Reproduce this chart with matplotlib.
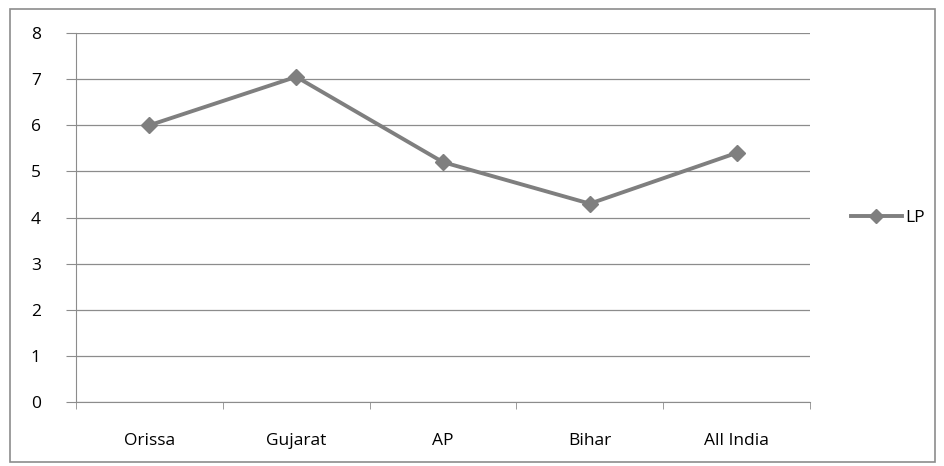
import numpy as np
import matplotlib
matplotlib.use("Agg")
import matplotlib.pyplot as plt
from matplotlib.patches import Rectangle

categories = ["Orissa", "Gujarat", "AP", "Bihar", "All India"]
lp_values = [6.0, 7.05, 5.2, 4.3, 5.4]
y_ticks = [0, 1, 2, 3, 4, 5, 6, 7, 8]

plt.rcParams['font.family'] = ['Open Sans', 'DejaVu Sans']

fig = plt.figure(figsize=(9.45, 4.66), dpi=100)
fig.patch.set_facecolor("white")
# outer chart border
fig.patches.append(Rectangle((10 / 945, 4 / 466), 925 / 945, 453 / 466,
                             transform=fig.transFigure, fill=False,
                             edgecolor="#8c8c8c", linewidth=1.2))

ax = fig.add_axes([76 / 945, 64 / 466, 734 / 945, 369 / 466])
x = np.arange(len(categories))
ax.plot(x, lp_values, color="#7f7f7f", linewidth=2.8, marker="D",
        markersize=8, label="LP")

ax.set_xlim(-0.5, len(categories) - 0.5)
ax.set_ylim(0, 8)
ax.set_yticks(y_ticks)
ax.set_xticks(x)
ax.set_xticklabels(categories, fontsize=12.5)
ax.set_xticks(np.arange(-0.5, len(categories)), minor=True)
ax.tick_params(axis="x", which="major", length=0, pad=22)
ax.tick_params(axis="x", which="minor", length=5, color="#8c8c8c", direction="out")
ax.tick_params(axis="y", length=7, color="#8c8c8c", labelsize=12.5, pad=22)
for lab in ax.get_yticklabels():
    lab.set_horizontalalignment("center")

ax.grid(axis="y", color="#8c8c8c", linewidth=0.9)
ax.set_axisbelow(True)
for s in ["top", "right"]:
    ax.spines[s].set_visible(False)
ax.spines["left"].set_color("#8c8c8c")
ax.spines["bottom"].set_color("#8c8c8c")

ax.legend(loc="center left", bbox_to_anchor=(1.035, 0.5), frameon=False,
          fontsize=12.5, handlelength=2.9, handletextpad=0.2, markerscale=0.9)

fig.savefig("out.png", dpi=100)
